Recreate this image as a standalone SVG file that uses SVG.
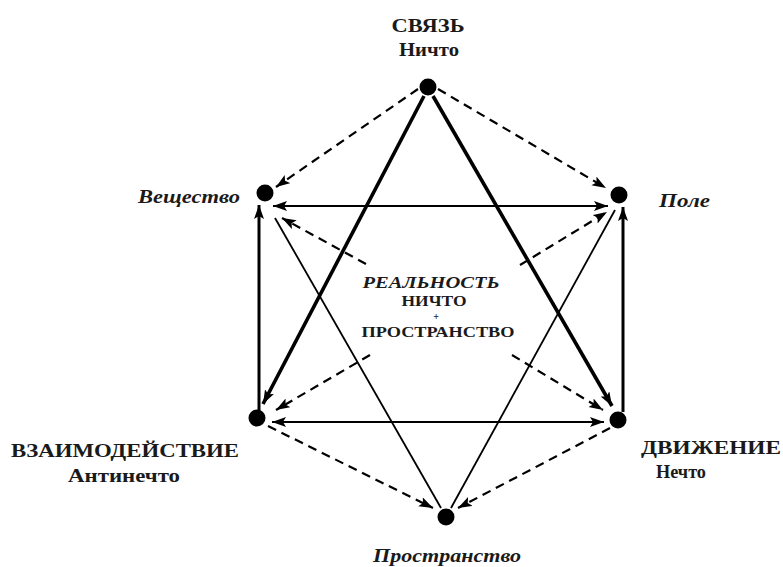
<svg xmlns="http://www.w3.org/2000/svg" width="783" height="567" viewBox="0 0 783 567">
<style>
.t{font-family:"Liberation Serif","Times New Roman",serif;font-weight:bold;fill:#1a1a1a}
.i{font-style:italic}
.thick{stroke:#000;stroke-width:3.6;fill:none}
.vert{stroke:#000;stroke-width:3;fill:none}
.hor{stroke:#000;stroke-width:2;fill:none}
.thin{stroke:#000;stroke-width:1.8;fill:none}
.dash{stroke:#000;stroke-width:2.2;fill:none;stroke-dasharray:9 6}
.dot{fill:#000}
</style>
<defs>
<marker id="ah" markerUnits="userSpaceOnUse" markerWidth="16" markerHeight="12" refX="14" refY="5" orient="auto">
<path d="M0,0 L14,5 L0,10 L3,5 Z" fill="#000"/>
</marker>
<marker id="as" markerUnits="userSpaceOnUse" markerWidth="16" markerHeight="12" refX="0" refY="5" orient="auto">
<path d="M14,0 L0,5 L14,10 L11,5 Z" fill="#000"/>
</marker>
</defs>
<g id="connectors">
<line class="thick" x1="424" y1="96" x2="263" y2="404" marker-end="url(#ah)"/>
<line class="thick" x1="433" y1="96" x2="612" y2="406" marker-end="url(#ah)"/>
<line class="vert" x1="259" y1="410" x2="259" y2="205" marker-end="url(#ah)"/>
<line class="vert" x1="623" y1="412" x2="623" y2="207" marker-end="url(#ah)"/>
<line class="hor" x1="273" y1="206" x2="608" y2="206" marker-start="url(#as)" marker-end="url(#ah)"/>
<line class="hor" x1="272" y1="422" x2="604" y2="422" marker-start="url(#as)" marker-end="url(#ah)"/>
<line class="thin" x1="275" y1="218" x2="441" y2="508"/>
<line class="thin" x1="615" y1="210" x2="451" y2="508"/>
<line class="dash" x1="418" y1="89" x2="276" y2="187" marker-end="url(#ah)"/>
<line class="dash" x1="438" y1="89" x2="606" y2="188" marker-end="url(#ah)"/>
<line class="dash" x1="268" y1="426" x2="433" y2="508" marker-end="url(#ah)"/>
<line class="dash" x1="610" y1="428" x2="458" y2="508" marker-end="url(#ah)"/>
<line class="dash" x1="366" y1="264" x2="282" y2="218" marker-end="url(#ah)"/>
<line class="dash" x1="520" y1="265" x2="607" y2="212" marker-end="url(#ah)"/>
<line class="dash" x1="370" y1="355" x2="276" y2="410" marker-end="url(#ah)"/>
<line class="dash" x1="512" y1="355" x2="603" y2="410" marker-end="url(#ah)"/>
</g>
<g id="svyaz">
<circle class="dot" cx="428" cy="87" r="8.5"/>
<text class="t" x="428" y="32" font-size="19" text-anchor="middle" textLength="73" lengthAdjust="spacingAndGlyphs">СВЯЗЬ</text>
<text class="t" x="429" y="56" font-size="19" text-anchor="middle" textLength="60" lengthAdjust="spacingAndGlyphs">Ничто</text>
</g>
<g id="veshchestvo">
<circle class="dot" cx="265" cy="193" r="8.5"/>
<text class="t i" x="240" y="203" font-size="19" text-anchor="end" textLength="102" lengthAdjust="spacingAndGlyphs">Вещество</text>
</g>
<g id="pole">
<circle class="dot" cx="619" cy="195" r="8.5"/>
<text class="t i" x="659" y="207" font-size="19" textLength="51" lengthAdjust="spacingAndGlyphs">Поле</text>
</g>
<g id="vzaimodeistvie">
<circle class="dot" cx="257" cy="418" r="8.5"/>
<text class="t" x="125" y="457" font-size="19" text-anchor="middle" textLength="228" lengthAdjust="spacingAndGlyphs">ВЗАИМОДЕЙСТВИЕ</text>
<text class="t" x="124" y="482" font-size="19" text-anchor="middle" textLength="112" lengthAdjust="spacingAndGlyphs">Антинечто</text>
</g>
<g id="dvizhenie">
<circle class="dot" cx="618" cy="420" r="8.5"/>
<text class="t" x="711" y="454" font-size="19" text-anchor="middle" textLength="140" lengthAdjust="spacingAndGlyphs">ДВИЖЕНИЕ</text>
<text class="t" x="681" y="478" font-size="19" text-anchor="middle" textLength="50" lengthAdjust="spacingAndGlyphs">Нечто</text>
</g>
<g id="prostranstvo">
<circle class="dot" cx="446" cy="517" r="8.5"/>
<text class="t i" x="447" y="562" font-size="19" text-anchor="middle" textLength="148" lengthAdjust="spacingAndGlyphs">Пространство</text>
</g>
<g id="realnost">
<text class="t i" x="431" y="288" font-size="17" text-anchor="middle" textLength="137" lengthAdjust="spacingAndGlyphs">РЕАЛЬНОСТЬ</text>
<text class="t" x="434" y="306" font-size="14" text-anchor="middle" textLength="65" lengthAdjust="spacingAndGlyphs">НИЧТО</text>
<text class="t" x="436" y="320" font-size="10" text-anchor="middle">+</text>
<text class="t" x="438" y="337" font-size="14" text-anchor="middle" textLength="153" lengthAdjust="spacingAndGlyphs">ПРОСТРАНСТВО</text>
</g>
</svg>
